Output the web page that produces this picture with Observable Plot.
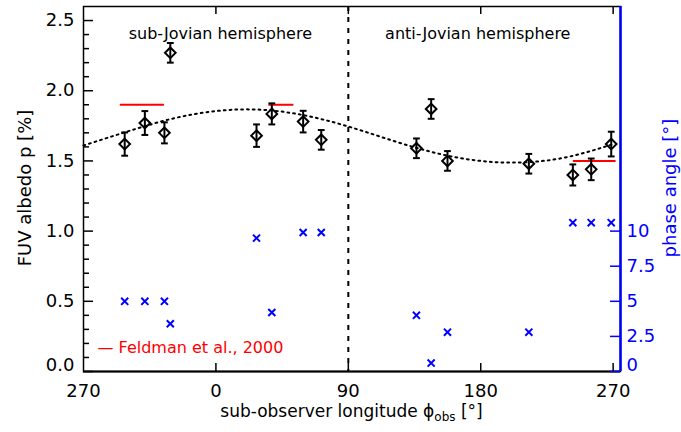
<!DOCTYPE html>
<html><head><meta charset="utf-8">
<script src="https://cdn.jsdelivr.net/npm/d3@7"></script>
<script src="https://cdn.jsdelivr.net/npm/@observablehq/plot@0.6"></script>
<style>body{margin:0;background:#fff} svg{display:block}</style>
</head><body><div id="chart"></div>
<script>
// Observations (sub-observer longitude in degrees, 0-360)
const lonObs = [298, 311.7, 325, 329, 27.6, 38, 59.3, 71.6, 136.3, 146.3, 157.4, 212.7, 242.6, 255.1, 268.7];
const albedo = [1.62, 1.77, 1.70, 2.27, 1.68, 1.835, 1.78, 1.65, 1.59, 1.87, 1.50, 1.48, 1.40, 1.44, 1.62];
const albedoErr = [0.083, 0.085, 0.075, 0.07, 0.08, 0.075, 0.077, 0.07, 0.07, 0.07, 0.07, 0.07, 0.075, 0.077, 0.088];
const phaseAngle = [5.0, 5.0, 5.0, 3.4, 9.5, 4.2, 9.9, 9.9, 4.0, 0.6, 2.8, 2.8, 10.6, 10.6, 10.6];
// Fitted curve
const fitLon = [-90, -60, -30, 0, 30, 60, 90, 120, 150, 180, 210, 240, 270];
const fitAlbedo = [1.61, 1.71, 1.80, 1.855, 1.865, 1.825, 1.745, 1.645, 1.555, 1.50, 1.49, 1.53, 1.62];
// Feldman et al., 2000
const feldmanLonStart = [295, 36, 243];
const feldmanLonEnd = [325, 53, 272];
const feldmanAlbedo = [1.9, 1.9, 1.5];
// Ticks and labels
const xTicks = [-90, 0, 90, 180, 270];
const xTickLabels = ["270", "0", "90", "180", "270"];
const yTicks = [0, 0.5, 1.0, 1.5, 2.0, 2.5];
const phaseTicks = [0, 2.5, 5, 7.5, 10];
const hemispheres = ["sub-Jovian hemisphere", "anti-Jovian hemisphere"];
const hemisphereLon = [3, 178];
const legendLabel = ["— Feldman et al., 2000"];

const xMin = -90, xMax = 275, yMax = 2.6;
const W = 681, H = 432, mL = 83, mR = 61, mT = 6, mB = 61;
const frameW = W - mL - mR, frameH = H - mT - mB;
const wrap = l => (l > xMax ? l - 360 : l);
const idx = d3.range(lonObs.length);
const minorY = d3.range(1, 26).map(k => k / 10).filter(v => Math.abs(v * 2 - Math.round(v * 2)) > 1e-6);
const capSymbol = {draw(ctx) { ctx.moveTo(-3.4, 0); ctx.lineTo(3.4, 0); }};
const caps = idx.flatMap(i => [{i, v: albedo[i] - albedoErr[i]}, {i, v: albedo[i] + albedoErr[i]}]);
const fmt1 = d3.format(".1f");

const plot = Plot.plot({
  width: W, height: H,
  marginLeft: mL, marginRight: mR, marginTop: mT, marginBottom: mB,
  style: {fontFamily: "DejaVu Sans", fontSize: "18px", background: "white"},
  x: {domain: [xMin, xMax]},
  y: {domain: [0, yMax]},
  marks: [
    Plot.frame({stroke: "black", strokeWidth: 1.5}),
    Plot.ruleY([0], {strokeWidth: 2}),
    // left axis ticks (inward)
    Plot.tickY(yTicks, {y: d => d, insetRight: frameW - 10, strokeWidth: 1.5}),
    Plot.tickY(minorY, {y: d => d, insetRight: frameW - 6, strokeWidth: 1.5}),
    // x ticks bottom and top
    Plot.tickX(xTicks.slice(1), {x: d => d, insetTop: frameH - 8, strokeWidth: 1.5}),
    Plot.tickX(xTicks.slice(1), {x: d => d, insetBottom: frameH - 8, strokeWidth: 1.5}),
    // right phase axis
    Plot.ruleX([xMax], {stroke: "blue", strokeWidth: 2.5}),
    Plot.tickY(phaseTicks, {y: d => d / 10, insetLeft: frameW - 10, stroke: "blue", strokeWidth: 1.5}),
    // tick labels
    Plot.axisX({ticks: xTicks, tickSize: 0, tickPadding: 13, label: null,
      tickFormat: d => xTickLabels[xTicks.indexOf(d)]}),
    Plot.axisY({ticks: yTicks.slice(1), tickSize: 0, tickPadding: 9, label: null, tickFormat: fmt1}),
    Plot.axisY({ticks: [0], tickSize: 0, tickPadding: 9, label: null, tickFormat: fmt1, dy: -6}),
    Plot.axisY({anchor: "right", ticks: phaseTicks.slice(1).map(t => t / 10), tickSize: 0, tickPadding: 6,
      label: null, color: "blue", tickFormat: d => d3.format("~g")(Math.round(d * 100) / 10)}),
    Plot.axisY({anchor: "right", ticks: [0], tickSize: 0, tickPadding: 6, label: null, color: "blue",
      tickFormat: () => "0", dy: -6}),
    // vertical dashed line at 90
    Plot.ruleX([90], {strokeDasharray: "5,6", strokeWidth: 2}),
    // fitted curve
    Plot.line(fitLon.map((l, i) => ({l, a: fitAlbedo[i]})), {x: "l", y: "a", curve: "natural",
      strokeDasharray: "1.8,4", strokeWidth: 2}),
    // Feldman
    Plot.ruleY(d3.range(feldmanAlbedo.length), {x1: i => wrap(feldmanLonStart[i]), x2: i => wrap(feldmanLonEnd[i]),
      y: i => feldmanAlbedo[i], stroke: "red", strokeWidth: 2}),
    // error bars
    Plot.ruleX(idx, {x: i => wrap(lonObs[i]), y1: i => albedo[i] - albedoErr[i], y2: i => albedo[i] + albedoErr[i],
      strokeWidth: 2}),
    Plot.dot(caps, {x: d => wrap(lonObs[d.i]), y: "v", symbol: capSymbol, r: 3, stroke: "black", strokeWidth: 2}),
    // albedo diamonds
    Plot.dot(idx, {x: i => wrap(lonObs[i]), y: i => albedo[i], symbol: "diamond2", r: 4.8,
      stroke: "black", strokeWidth: 2, fill: "none"}),
    // phase angle crosses
    Plot.dot(idx, {x: i => wrap(lonObs[i]), y: i => phaseAngle[i] / 10, symbol: "times", r: 3.3,
      stroke: "blue", strokeWidth: 2}),
    // annotations
    Plot.text(hemispheres, {x: (d, i) => hemisphereLon[i], text: d => d, frameAnchor: "top", dy: 21, fontSize: 16}),
    Plot.text(legendLabel, {text: d => d, frameAnchor: "bottom-left", dx: 14, dy: -19, textAnchor: "start",
      fill: "red", fontSize: 16})
  ]
});

const svg = d3.select(plot);
svg.append("text").attr("transform", "translate(31,188) rotate(-90)").attr("text-anchor", "middle")
  .attr("fill", "black").text("FUV albedo p [%]");
svg.append("text").attr("transform", "translate(676,188) rotate(-90)").attr("text-anchor", "middle")
  .attr("fill", "blue").text("phase angle [°]");
const xt = svg.append("text").attr("x", (mL + W - mR) / 2).attr("y", 417).attr("text-anchor", "middle")
  .attr("fill", "black").attr("font-size", 17);
xt.append("tspan").text("sub-observer longitude ϕ");
xt.append("tspan").attr("font-size", 12).attr("dy", 4).text("obs");
xt.append("tspan").attr("dy", -4).text(" [°]");

document.getElementById("chart").appendChild(plot);
</script>
</body></html>
